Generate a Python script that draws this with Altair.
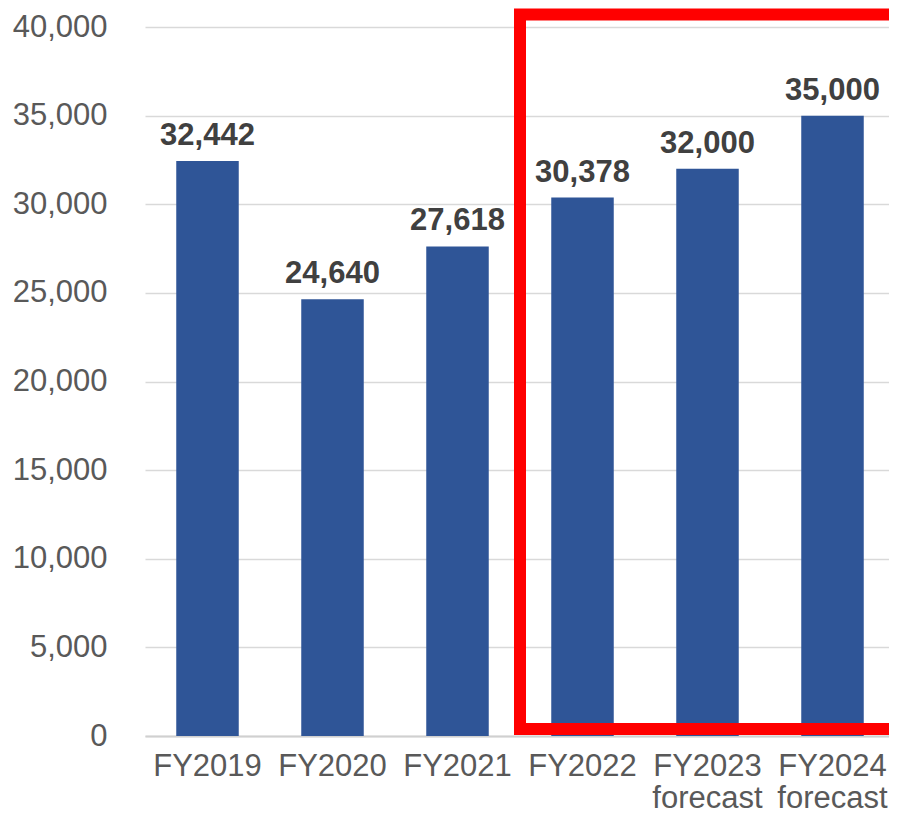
import altair as alt
import pandas as pd

categories = ["FY2019", "FY2020", "FY2021", "FY2022", "FY2023\nforecast", "FY2024\nforecast"]
values = [32442, 24640, 27618, 30378, 32000, 35000]
y_ticks = [0, 5000, 10000, 15000, 20000, 25000, 30000, 35000, 40000]

# highlight box: from band index 3 (FY2022) to 6 (end of FY2024), in data units on y
hl_x = [3]
hl_x2 = [6]
hl_y = [400]
hl_y2 = [40700]

df = pd.DataFrame({"cat": categories, "val": values})
hl = pd.DataFrame({"x": hl_x, "x2": hl_x2, "y": hl_y, "y2": hl_y2})

FONT = "Liberation Sans"

yscale = alt.Scale(domain=[0, 40000], nice=False)
xscale = alt.Scale(paddingInner=0.5, paddingOuter=0.25, range=[0, 750])

x_axis = alt.Axis(title=None, labelAngle=0, ticks=False, domain=True,
                  domainColor="#d0d0d0", domainWidth=2,
                  labelFont=FONT, labelFontSize=31, labelColor="#595959",
                  labelPadding=15, labelLineHeight=32,
                  labelExpr="split(datum.label, '\\n')")
y_axis = alt.Axis(title=None, values=y_ticks, format=",d", ticks=False, domain=False,
                  grid=True, gridColor="#d9d9d9", gridWidth=1.5,
                  labelFont=FONT, labelFontSize=31, labelColor="#595959",
                  labelPadding=38)

base = alt.Chart(df).encode(
    x=alt.X("cat:N", sort=categories, scale=xscale, axis=x_axis),
    y=alt.Y("val:Q", scale=yscale, axis=y_axis),
)

bars = base.mark_bar(color="#2F5597")

text = base.mark_text(font=FONT, fontSize=31, fontWeight="bold", color="#404040",
                      baseline="alphabetic", dy=-16).encode(
    text=alt.Text("val:Q", format=",d"),
)

main = alt.layer(bars, text)

box = alt.Chart(hl).mark_rect(fillOpacity=0, stroke="#FF0000", strokeWidth=12).encode(
    x=alt.X("x:Q", scale=alt.Scale(domain=[0, 6], nice=False, zero=False, range=[0, 750]), axis=None),
    x2="x2:Q",
    y=alt.Y("y:Q", scale=yscale, axis=y_axis),
    y2="y2:Q",
)

chart = alt.layer(main, box).resolve_scale(x="independent").properties(
    width=744, height=709,
    autosize=alt.AutoSizeParams(type="none"),
    padding={"left": 137, "top": 19, "right": 0, "bottom": 81},
).configure_view(stroke=None)

chart.save("out.html", embed_options={"renderer": "svg", "actions": False})
